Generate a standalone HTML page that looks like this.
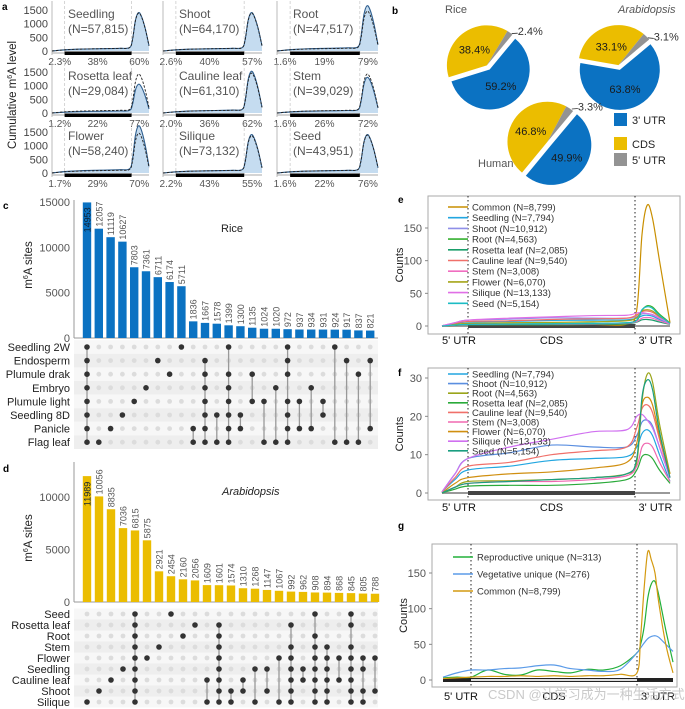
<!DOCTYPE html>
<html><head><meta charset="utf-8"><style>
html,body{margin:0;padding:0;background:#fff;}
svg{display:block;font-family:"Liberation Sans","Noto Sans CJK SC",sans-serif;}
</style></head><body>
<svg id="fig" width="685" height="709" viewBox="0 0 685 709" xmlns="http://www.w3.org/2000/svg"></svg>
<script>
// ---------- DATA ----------
// panel a
const aTissues = ['Seedling','Shoot','Root','Rosetta leaf','Cauline leaf','Stem','Flower','Silique','Seed'];
const aN = ['57,815','64,170','47,517','29,084','61,310','39,029','58,240','73,132','43,951'];
const aPctLeft = ['2.3%','2.6%','1.6%','1.2%','2.0%','1.6%','1.7%','2.2%','1.6%'];
const aPctMid = ['38%','40%','19%','22%','36%','26%','29%','43%','22%'];
const aPctRight = ['60%','57%','79%','77%','62%','72%','70%','55%','76%'];
const aU = [0,0.13,0.3,0.5,0.7,0.8,0.83,0.86,0.89,0.92,0.96,1];
const aProfile = [0,0.03,0.05,0.06,0.07,0.09,0.3,0.8,1,0.92,0.6,0.14];
const aPeakSolid = [1400,1400,1650,1050,1520,1300,1720,1400,1400];
const aPeakDashed = [1380,1380,1450,1420,1450,1420,1450,1360,1380];
const aYTicks = [0,500,1000,1500];
// panel b
const pieNames = ['Rice','Arabidopsis','Human'];
const pie3UTR = [59.2,63.8,49.9];
const pieCDS = [38.4,33.1,46.8];
const pie5UTR = [2.4,3.1,3.3];
const pieStartDeg = [31,39,28];
// panel c
const cSets = ['Seedling 2W','Endosperm','Plumule drak','Embryo','Plumule light','Seedling 8D','Panicle','Flag leaf'];
const cValues = [14953,12057,11119,10627,7803,7361,6711,6174,5711,1836,1667,1578,1399,1300,1135,1024,1020,972,937,934,931,924,917,837,821];
const cMembers = [[0,1,2,3,4,5,6,7],[7],[6],[5],[4],[3],[1],[2],[0],[6,7],[1,2,3,4,5,6,7],[5,7],[0,2,3,4,5,6,7],[5,6],[2,4],[4,7],[3,7],[0,1,2,4,5,6,7],[4,6],[3,6],[4,5],[0,7],[1,7],[2,7],[1,6]];
const cYTicks = [0,5000,10000,15000];
// panel d
const dSets = ['Seed','Rosetta leaf','Root','Stem','Flower','Seedling','Cauline leaf','Shoot','Silique'];
const dValues = [11989,10056,8835,7036,6815,5875,2921,2454,2160,2056,1609,1601,1574,1310,1268,1147,1067,992,962,908,894,868,845,805,788];
const dMembers = [[8],[7],[6],[5],[0,1,2,3,4,5,6,7,8],[4],[3],[0],[2],[1],[6,8],[1,2,3,4,5,6,7,8],[7,8],[6,7],[5,8],[5,7],[4,8],[1,3,4,5,6,7,8],[5,6],[0,2,3,4,5,6,7,8],[3,4,5,6,7,8],[4,6],[0,1,3,4,5,6,7,8],[4,5,7,8],[4,7]];
const dYTicks = [0,5000,10000];
// panels e/f metagene
const mU = [0,0.5,1,1.25,1.5,1.75,1.95,2.05,2.2,2.35,2.5,2.7,3];
const fNames = ['Seedling (N=7,794)','Shoot (N=10,912)','Root (N=4,563)','Rosetta leaf (N=2,085)','Cauline leaf (N=9,540)','Stem (N=3,008)','Flower (N=6,070)','Silique (N=13,133)','Seed (N=5,154)'];
const mSeedling = [0.3,3.5,6,7,8.5,9,9.5,12,15.5,16.5,15,10,3];
const mShoot = [0.3,5,9,10.5,12.5,12,12,15,18.5,19,17.5,12,4];
const mRoot = [0,1.5,3,3.2,3.5,4,5,8,24,31,29,18,5];
const mRosetta = [0,1,1.8,2,2,2.5,3.5,6,9.5,10,9,6,2.5];
const mCauline = [0.3,4,7,8,10,11,12,17,22,23,21,14,4];
const mStem = [0,1.5,2.5,3,3,3.5,4.5,7,12,13,12,8,3];
const mFlower = [0,2.5,4,5,5.5,6.5,8,13,23,25,23,15,5];
const mSilique = [0.3,5,9,12,14,16,16.5,20,20.5,19,17,12,4];
const mSeed = [0,1.5,2.5,3,3.5,4,5,9,25,29.5,27,16,4];
const mCommon = [0,1,2,2,2,2.5,3,25,140,185,165,100,5];
const eYTicks = [0,50,100,150];
const fYTicks = [0,10,20,30];
// panel g
const gU = [0,0.5,1,1.1,1.2,1.3,1.4,1.5,1.6,1.7,1.8,1.9,2,2.1,2.2,2.3,2.4,2.5,2.6,2.8,3];
const gNames = ['Reproductive unique (N=313)','Vegetative unique (N=276)','Common (N=8,799)'];
const gRepro = [3,4,4,14,8,7,14,12,10,15,14,20,38,50,75,115,135,138,120,70,25];
const gVeg = [4,10,14,14,16,17,20,21,16,14,12,15,38,45,52,58,61,62,60,50,40];
const gCommon = [2,3,4,5,5,6,5,6,5,6,6,8,10,60,130,180,168,150,110,50,10];
const gYTicks = [0,50,100,150];

// ---------- HELPERS ----------
const NS='http://www.w3.org/2000/svg';
const fig=document.getElementById('fig');
function mk(tag,attrs,parent){const e=document.createElementNS(NS,tag);for(const k in attrs)e.setAttribute(k,attrs[k]);(parent||fig).appendChild(e);return e;}
function txt(s,attrs,parent){const e=mk('text',attrs,parent);e.textContent=s;return e;}
function smooth(pts){let d='M'+pts[0][0]+','+pts[0][1];for(let i=0;i<pts.length-1;i++){const p0=pts[Math.max(0,i-1)],p1=pts[i],p2=pts[i+1],p3=pts[Math.min(pts.length-1,i+2)];const c1=[p1[0]+(p2[0]-p0[0])/6,p1[1]+(p2[1]-p0[1])/6],c2=[p2[0]-(p3[0]-p1[0])/6,p2[1]-(p3[1]-p1[1])/6];d+=' C'+c1[0]+','+c1[1]+' '+c2[0]+','+c2[1]+' '+p2[0]+','+p2[1];}return d;}
function letter(s,x,y){const t=txt(s,{x:x,y:y,'font-size':10,'font-weight':'bold',fill:'#000'});}

// ---------- PANEL A ----------
letter('a',2,10);
const aColL=[52,163,277], aColW=[97,99,101], aZero=[51,113,173];
const aYs=v=>v*41/1500;
const yl=txt('',{transform:'translate(16,95) rotate(-90)','text-anchor':'middle','font-size':11.5,fill:'#222'});

yl.innerHTML='Cumulative m<tspan dy="-4" font-size="7">6</tspan><tspan dy="4">A level</tspan>';
aTissues.forEach((t,i)=>{
  const c=i%3,r=Math.floor(i/3),L=aColL[c],W=aColW[c],Z=aZero[r];
  const g=mk('g',{});
  const X=u=>L+u*W;
  [0.13,0.82].forEach(f=>{mk('line',{x1:X(f),x2:X(f),y1:Z-50,y2:Z+3,stroke:'#ccc','stroke-dasharray':'3,2','stroke-width':0.8},g);});
  mk('line',{x1:L,x2:L,y1:Z-50,y2:Z+4,stroke:'#bbb','stroke-width':1},g);
  if(c===0){aYTicks.forEach(v=>{const tt=txt(v,{x:L-4,y:Z-aYs(v)+4,'text-anchor':'end','font-size':11,fill:'#444'},g);});}
  const ps=aU.map((u,k)=>[X(u),Z-aYs(aProfile[k]*aPeakSolid[i])]);
  const pd=aU.map((u,k)=>[X(u),Z-aYs(aProfile[k]*aPeakDashed[i])]);
  const sd=smooth(ps);
  const area=mk('path',{d:sd+' L'+X(1)+','+Z+' L'+X(0)+','+Z+' Z',fill:'#c5dcf0',stroke:'none'},g);
  
  const sl=mk('path',{d:sd,fill:'none',stroke:'#2f5f8f','stroke-width':1.1},g);
  
  const dl=mk('path',{d:smooth(pd),fill:'none',stroke:'#222','stroke-width':0.9,'stroke-dasharray':'2.5,1.5'},g);
  
  mk('line',{x1:X(0),x2:X(1),y1:Z+2,y2:Z+2,stroke:'#aaa','stroke-width':1},g);
  mk('rect',{x:X(0.13),y:Z+0.5,width:X(0.82)-X(0.13),height:3.5,fill:'#000'},g);
  const t1=txt(t,{x:L+16,y:Z-33,'font-size':12,fill:'#555'},g);
  const t2=txt('(N='+aN[i]+')',{x:L+16,y:Z-18,'font-size':12,fill:'#555'},g);
  [[aPctLeft[i],0.08],[aPctMid[i],0.47],[aPctRight[i],0.9]].forEach(p=>{const tt=txt(p[0],{x:X(p[1]),y:Z+14,'text-anchor':'middle','font-size':10,fill:'#555'},g);});
});

// ---------- PANEL B ----------
letter('b',392,14);
const pieC=[[488,67],[619,67],[549,143]], pieR=40;
const pcol={u3:'#0b72c2',cds:'#ebbd00',u5:'#939393'};
function pt(cx,cy,r,deg){const a=(deg-90)*Math.PI/180;return [cx+r*Math.cos(a),cy+r*Math.sin(a)];}
function slice(cx,cy,r,a0,a1,fill,g){const p0=pt(cx,cy,r,a0),p1=pt(cx,cy,r,a1);const large=(a1-a0)>180?1:0;return mk('path',{d:`M${cx},${cy} L${p0[0]},${p0[1]} A${r},${r} 0 ${large} 1 ${p1[0]},${p1[1]} Z`,fill:fill},g);}
pieNames.forEach((n,i)=>{
  const g=mk('g',{});
  const [cx,cy]=pieC[i];const s=pieStartDeg[i];
  const g5=pie5UTR[i]*3.6,g3=pie3UTR[i]*3.6,gc=pieCDS[i]*3.6;
  const b0=s+g5,b1=b0+g3,c1=b1+gc;
  const mid=(b0+b1)/2, off=pt(0,0,3,mid), off2=pt(0,0,-2,mid);
  const sb=slice(cx+off[0],cy+off[1],pieR,b0,b1,pcol.u3,g);
  const sc=slice(cx+off2[0],cy+off2[1],pieR,b1,c1,pcol.cds,g);
  const s5=slice(cx+off2[0],cy+off2[1],pieR,s,s+g5,pcol.u5,g);
  const lb=pt(cx+off[0],cy+off[1],pieR*0.5,mid);
  txt(pie3UTR[i].toFixed(1)+'%',{x:lb[0],y:lb[1]+4,'text-anchor':'middle','font-size':11,fill:'#1a1a1a'},g);
  const lc=pt(cx,cy,pieR*0.55,(b1+c1)/2);
  txt(pieCDS[i].toFixed(1)+'%',{x:lc[0],y:lc[1]+4,'text-anchor':'middle','font-size':11,fill:'#1a1a1a'},g);
  const a5=pt(cx,cy,pieR+1,s+g5/2),a5b=pt(cx,cy,pieR+5,s+g5/2+6);
  mk('line',{x1:a5[0],y1:a5[1],x2:a5b[0],y2:a5b[1],stroke:'#333','stroke-width':0.8},g);
  txt(pie5UTR[i].toFixed(1)+'%',{x:a5b[0],y:a5b[1]+2,'font-size':11,fill:'#333'},g);
});
const pt1=txt('Rice',{x:445,y:13,'font-size':11,fill:'#555'});
const pt2=txt('Arabidopsis',{x:618,y:13,'font-size':11,fill:'#555','font-style':'italic'});
const pt3=txt('Human',{x:478,y:167,'font-size':11,fill:'#555'});
[['3\' UTR',pcol.u3,113],['CDS',pcol.cds,137],['5\' UTR',pcol.u5,153]].forEach(l=>{
  const g=mk('g',{});
  mk('rect',{x:614,y:l[2],width:13,height:13,fill:l[1]},g);
  txt(l[0],{x:632,y:l[2]+11,'font-size':11,fill:'#222'},g);
});

// ---------- UPSET ----------
function upset(opt){
  const {sets,values,members,ticks,zero,pxPer,x0,dx,rowY0,dy,color,title,titleItalic,titleX,titleY,prefix,top}=opt;
  const g=mk('g',{});
  const Y=v=>zero-v*pxPer, XC=i=>x0+i*dx;
  sets.forEach((s,r)=>{
    mk('rect',{x:74,y:rowY0+r*dy-dy/2,width:304,height:dy,fill:r%2?'#eeeeee':'#f7f7f7'},g);
    const l=txt(s,{x:70,y:rowY0+r*dy+4,'text-anchor':'end','font-size':11,fill:'#222'},g);
    
  });
  mk('line',{x1:74,x2:74,y1:top,y2:zero,stroke:'#999','stroke-width':1},g);
  mk('line',{x1:74,x2:378,y1:zero,y2:zero,stroke:'#999','stroke-width':1},g);
  ticks.forEach(v=>{const t=txt(v,{x:70,y:Y(v)+4,'text-anchor':'end','font-size':11,fill:'#555'},g);});
  values.forEach((v,i)=>{
    const b=mk('rect',{x:XC(i)-4.2,y:Y(v),width:8.4,height:zero-Y(v),fill:color},g);
    
    const inside=i===0;
    const ly=inside?Y(v)+30:Y(v)-2;
    const t=txt(v,{x:0,y:0,transform:`translate(${XC(i)+3.5},${ly}) rotate(-90)`,'font-size':9,fill:inside?'#123':'#555'},g);
    
    const m=members[i];
    sets.forEach((s,r)=>{if(m.indexOf(r)<0){mk('circle',{cx:XC(i),cy:rowY0+r*dy,r:2.4,fill:'#dcdcdc'},g);}});
    if(m.length>1){const ln=mk('line',{x1:XC(i),x2:XC(i),y1:rowY0+Math.min(...m)*dy,y2:rowY0+Math.max(...m)*dy,stroke:'#999','stroke-width':1.3},g);}
    m.forEach(r=>{const d=mk('circle',{cx:XC(i),cy:rowY0+r*dy,r:2.8,fill:'#333'},g);});
  });
  const tt=txt(title,{x:titleX,y:titleY,'font-size':11,fill:'#222','font-style':titleItalic?'italic':'normal'},g);
  
}
letter('c',3,209);
upset({sets:cSets,values:cValues,members:cMembers,ticks:cYTicks,zero:338,pxPer:136/15000,x0:87,dx:11.8,rowY0:347,dy:13.6,color:'#0b72c2',title:'Rice',titleX:221,titleY:232,prefix:'rice',top:200});
letter('d',3,472);
upset({sets:dSets,values:dValues,members:dMembers,ticks:dYTicks,zero:602,pxPer:105/10000,x0:87,dx:12,rowY0:614,dy:11,color:'#ebbd00',title:'Arabidopsis',titleItalic:true,titleX:222,titleY:495,prefix:'arabidopsis',top:462});
[['c',32,265],['d',32,538]].forEach(a=>{const t=txt('',{transform:`translate(${a[1]},${a[2]}) rotate(-90)`,'text-anchor':'middle','font-size':11.5,fill:'#222'});t.innerHTML='m<tspan dy="-4" font-size="7">6</tspan><tspan dy="4">A sites</tspan>';});

// ---------- METAGENE PANELS ----------
function meta(opt){
  const {prefix,box,utr5,cds,end,start,zero,pxPer,ticks,series,names,colors,us,legX,legY,legDy,labY,gStyle}=opt;
  const g=mk('g',{});
  mk('rect',{x:box[0],y:box[1],width:box[2]-box[0],height:box[3]-box[1],fill:'#fff',stroke:'#aaa','stroke-width':1},g);
  const X=u=>u<=1?start+u*(utr5-start):u<=2?utr5+(u-1)*(cds-utr5):cds+(u-2)*(end-cds);
  const Y=v=>zero-v*pxPer;
  ticks.forEach(v=>{const t=txt(v,{x:box[0]-6,y:Y(v)+4,'text-anchor':'end','font-size':11,fill:'#555'},g);mk('line',{x1:box[0]-3,x2:box[0],y1:Y(v),y2:Y(v),stroke:'#888'},g);});
  [utr5,cds].forEach(x=>mk('line',{x1:x,x2:x,y1:box[1],y2:box[3],stroke:'#222','stroke-width':1,'stroke-dasharray':'1.5,2.5'},g));
  if(gStyle){mk('rect',{x:start,y:zero-2,width:end-start,height:4,fill:'#222'},g);mk('rect',{x:utr5,y:zero-1,width:cds-utr5,height:2,fill:'#ddd'},g);}
  else{mk('line',{x1:start,x2:end,y1:zero,y2:zero,stroke:'#999','stroke-width':2},g);mk('rect',{x:utr5,y:zero-2,width:cds-utr5,height:4,fill:'#444'},g);}
  series.forEach((s,k)=>{const p=mk('path',{d:smooth(us.map((u,j)=>[X(u),Y(s[j])])),fill:'none',stroke:colors[k],'stroke-width':1.2},g);});
  names.forEach((n,k)=>{const lg=mk('g',{},g);
    mk('line',{x1:legX,x2:legX+20,y1:legY+k*legDy,y2:legY+k*legDy,stroke:colors[k],'stroke-width':1.6},lg);
    txt(n,{x:legX+24,y:legY+k*legDy+3.5,'font-size':9.5,fill:'#333'},lg);});
  [["5' UTR",(start+utr5)/2+4],['CDS',(utr5+cds)/2],["3' UTR",(cds+end)/2+3]].forEach(l=>{const t=txt(l[0],{x:l[1],y:labY,'text-anchor':'middle','font-size':11,fill:'#111'},g);});
  const yt=txt('Counts',{transform:`translate(${box[0]-25},${(box[1]+box[3])/2}) rotate(-90)`,'text-anchor':'middle','font-size':11,fill:'#222'},g);
  
}
letter('e',398,203);
meta({prefix:'e',box:[428,196,680,334],start:442,utr5:468,cds:635,end:670,zero:326,pxPer:98/150,ticks:eYTicks,us:mU,
  series:[mCommon,mSeedling,mShoot,mRoot,mRosetta,mCauline,mStem,mFlower,mSilique,mSeed],
  names:['Common (N=8,799)'].concat(fNames),
  colors:['#c98f00','#22a6e0','#8f8fe8','#36b030','#1a9e6a','#f0706a','#f06ec0','#a5a51a','#e06fe6','#1cbcc4'],
  legX:448,legY:207,legDy:10.7,labY:344});
letter('f',398,376);
meta({prefix:'f',box:[428,368,680,500],start:442,utr5:468,cds:635,end:670,zero:493,pxPer:115/30,ticks:fYTicks,us:mU,
  series:[mSeedling,mShoot,mRoot,mRosetta,mCauline,mStem,mFlower,mSilique,mSeed],names:fNames,
  colors:['#22a6e0','#5b8fe0','#9aa51a','#2aaa3a','#f0706a','#f068b0','#d08f10','#d070f0','#1a9e80'],
  legX:448,legY:374,legDy:9.6,labY:511});
letter('g',398,529);
meta({prefix:'g',box:[432,544,677,687],start:443,utr5:471,cds:637,end:673,zero:680,pxPer:107/150,ticks:gYTicks,us:gU,
  series:[gRepro,gVeg,gCommon],names:gNames,colors:['#22b03a','#5b9be8','#d49a10'],
  legX:453,legY:557,legDy:17,labY:700,gStyle:true});
const wm=txt('CSDN @让学习成为一种生活方式',{x:488,y:699,'font-size':13,fill:'#bbb','fill-opacity':0.8});

</script>
</body></html>
